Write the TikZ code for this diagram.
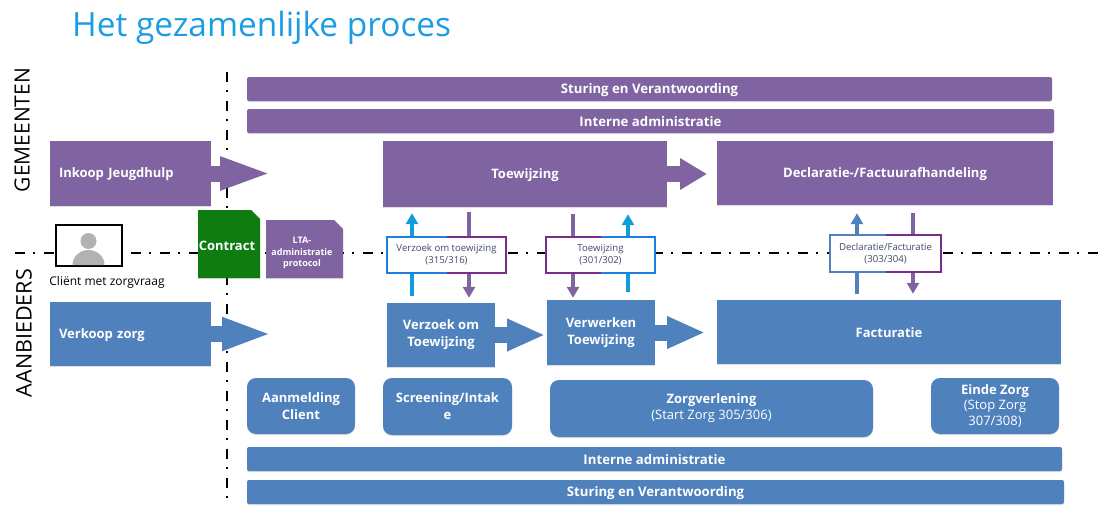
\documentclass[tikz,border=0pt]{standalone}
\usepackage{fontspec}
\setmainfont{Open Sans}
\usepackage{xcolor}
\usetikzlibrary{arrows.meta}
\usetikzlibrary{positioning,calc,shadows}
\definecolor{paars}{HTML}{8064A2}
\definecolor{blauw}{HTML}{4F81BD}
\definecolor{lichtblauw}{HTML}{109DDC}
\definecolor{titel}{HTML}{1C9CE2}
\definecolor{groen}{HTML}{0E7C10}
\definecolor{randpaars}{HTML}{7B2D8B}
\definecolor{randblauw}{HTML}{1F7FE0}
\definecolor{berichttekst}{HTML}{3F4A66}
\newcommand{\kleinfont}{\fontsize{13}{15}\mdseries\selectfont}
\tikzset{
    schaduw/.style={
        drop shadow={opacity=0.25, shadow xshift=0pt, shadow yshift=-1pt}
    },
    blok/.style={
        schaduw,
        inner sep=2pt,
        align=center,
        text=white,
        execute at begin node={\rule{0pt}{12pt}},
        font=\bfseries\fontsize{13}{17}\selectfont
    },
    balk/.style={
        blok,
        rounded corners=2pt,
        font=\bfseries\fontsize{13.2}{16}\selectfont
    },
    rond/.style={
        blok,
        fill=blauw,
        rounded corners=9pt
    },
    blokpijl/.style={
        line width=16pt,
        -{Triangle[length=52pt, width=30pt]}
    },
    pijl/.style={
        line width=4pt,
        -{Triangle[length=11pt, width=12pt]},
        shorten <=7pt,
        shorten >=6pt
    },
    bericht/.style={
        fill=white,
        inner sep=0pt,
        align=center,
        text=berichttekst,
        execute at begin node={\rule{0pt}{12pt}},
        font=\fontsize{9.6}{12}\selectfont
    },
    scheiding/.style={
        line width=2pt,
        dash pattern=on 10pt off 8pt on 2pt off 9pt
    }
}

\begin{document}
\begin{tikzpicture}[x=1pt, y=-1pt]
    \useasboundingbox (0,0) rectangle (1103,506);

    % Scheidingslijnen
    \coordinate (hstart) at (15,253);
    \coordinate (heind) at (1100,253);
    \coordinate (vstart) at (227,72);
    \coordinate (veind) at (227,506);
    \draw[scheiding] (hstart) -- (heind);
    \draw[scheiding] (vstart) -- (veind);

    % Titel en zijkant
    \node[text=titel, font=\fontsize{33.4}{38}\selectfont, anchor=west, inner sep=0pt] (titel) at (72,28) {Het gezamenlijke proces};
    \node[rotate=90, font=\fontsize{21}{24}\selectfont, inner sep=0pt] (gemeenten) at (22,130) {GEMEENTEN};
    \node[rotate=90, font=\fontsize{21.5}{24}\selectfont, inner sep=0pt] (aanbieders) at (24,333) {AANBIEDERS};

    % Gemeenten
    \node[balk, fill=paars, minimum width=805pt, minimum height=24pt] (sturingg) at (649.5,89) {Sturing en Verantwoording};
    \node[balk, fill=paars, minimum width=807pt, minimum height=24pt] (interneg) at (650.5,121) {Interne administratie};
    \node[blok, fill=paars, minimum width=161pt, minimum height=65pt, text width=143pt, align=left] (inkoop) at (130.5,173.5) {Inkoop Jeugdhulp};
    \node[blok, fill=paars, minimum width=284pt, minimum height=66pt] (toewijzing) at (525,174) {Toewijzing};
    \node[blok, fill=paars, minimum width=336pt, minimum height=64pt] (declaratie) at (885,173) {Declaratie-/Factuurafhandeling};

    % Aanbieders
    \node[blok, fill=blauw, minimum width=161pt, minimum height=64pt, text width=143pt, align=left] (verkoop) at (130.5,334) {Verkoop zorg};
    \node[blok, fill=blauw, minimum width=108pt, minimum height=64pt] (verzoek) at (441,335) {Verzoek om\\Toewijzing};
    \node[blok, fill=blauw, minimum width=108pt, minimum height=65pt] (verwerken) at (601,332.5) {Verwerken\\Toewijzing};
    \node[blok, fill=blauw, minimum width=344pt, minimum height=64pt] (facturatie) at (889,332) {Facturatie};
    \node[rond, minimum width=108pt, minimum height=56pt] (aanmelding) at (301,406) {Aanmelding\\Client};
    \node[rond, minimum width=129pt, minimum height=57pt] (screening) at (447.5,406.5) {Screening/Intak\\e};
    \node[rond, minimum width=323pt, minimum height=57pt] (zorg) at (711.5,408.5) {Zorgverlening\\[-1pt]\kleinfont (Start Zorg 305/306)};
    \node[rond, minimum width=128pt, minimum height=56pt] (einde) at (995,406) {Einde Zorg\\[-2pt]\kleinfont (Stop Zorg\\[-1pt]\kleinfont 307/308)};
    \node[balk, fill=blauw, minimum width=815pt, minimum height=24pt] (internea) at (654.5,459) {Interne administratie};
    \node[balk, fill=blauw, minimum width=817pt, minimum height=24pt] (sturinga) at (655.5,492) {Sturing en Verantwoording};

    % Blokpijlen
    \coordinate (inkooppunt) at (272,173.5);
    \coordinate (toewijzingpunt) at (707,174);
    \coordinate (verkooppunt) at (272,334);
    \coordinate (verzoekpunt) at (545,335);
    \coordinate (verwerkenpunt) at (705,332.5);
    \draw[blokpijl, paars] (inkoop.east) -- (inkooppunt);
    \draw[blokpijl, paars, -{Triangle[length=27pt, width=30pt]}] (toewijzing.east) -- (toewijzingpunt);
    \draw[blokpijl, blauw, -{Triangle[length=50pt, width=30pt]}] (verkoop.east) -- (verkooppunt);
    \draw[blokpijl, blauw, -{Triangle[length=38pt, width=30pt]}] (verzoek.east) -- (verzoekpunt);
    \draw[blokpijl, blauw, -{Triangle[length=38pt, width=30pt]}] (verwerken.east) -- (verwerkenpunt);

    % Berichten
    \draw[pijl, lichtblauw] ([xshift=-29pt]verzoek.north) -- ([xshift=-29pt]verzoek.north |- toewijzing.south);
    \draw[pijl, paars, shorten <=5pt, shorten >=5pt] ([xshift=28pt]verzoek.north |- toewijzing.south) -- ([xshift=28pt]verzoek.north);
    \draw[pijl, paars, shorten <=7pt, shorten >=2pt] ([xshift=-28pt]verwerken.north |- toewijzing.south) -- ([xshift=-28pt]verwerken.north);
    \draw[pijl, lichtblauw, shorten <=8pt, shorten >=7pt] ([xshift=27pt]verwerken.north) -- ([xshift=27pt]verwerken.north |- toewijzing.south);
    \draw[pijl, blauw, shorten <=6pt, shorten >=8pt] ([xshift=-32pt]facturatie.north) -- ([xshift=-32pt]facturatie.north |- declaratie.south);
    \draw[pijl, paars, shorten <=8pt, shorten >=6pt] ([xshift=24pt]facturatie.north |- declaratie.south) -- ([xshift=24pt]facturatie.north);

    \node[bericht, minimum width=119pt, minimum height=36pt] (bverzoek) at (446.5,255) {Verzoek om toewijzing\\(315/316)};
    \node[bericht, minimum width=109pt, minimum height=36pt] (btoewijzing) at (600.5,255) {Toewijzing\\(301/302)};
    \node[bericht, minimum width=111pt, minimum height=37pt] (bdeclaratie) at (885.5,253.5) {Declaratie/Facturatie\\(303/304)};
    \draw[line width=1.6pt, randblauw] (bverzoek.north) -- (bverzoek.north west) -- (bverzoek.south west) -- (bverzoek.south);
    \draw[line width=1.6pt, randpaars] (bverzoek.north) -- (bverzoek.north east) -- (bverzoek.south east) -- (bverzoek.south);
    \draw[line width=1.6pt, randpaars] (btoewijzing.north) -- (btoewijzing.north west) -- (btoewijzing.south west) -- (btoewijzing.south);
    \draw[line width=1.6pt, randblauw] (btoewijzing.north) -- (btoewijzing.north east) -- (btoewijzing.south east) -- (btoewijzing.south);
    \draw[line width=1.6pt, blauw] (bdeclaratie.north) -- (bdeclaratie.north west) -- (bdeclaratie.south west) -- (bdeclaratie.south);
    \draw[line width=1.6pt, randpaars] (bdeclaratie.north) -- (bdeclaratie.north east) -- (bdeclaratie.south east) -- (bdeclaratie.south);

    % Contract en protocol
    \path[fill=groen, schaduw] (198,210) -- (251,210) -- (260,219) -- (260,278) -- (198,278) -- cycle;
    \node[text=white, font=\bfseries\fontsize{13}{16}\selectfont, inner sep=0pt] (contract) at (227,246) {Contract};
    \path[fill=paars, schaduw] (266,220) -- (334,220) -- (343,229) -- (343,278) -- (266,278) -- cycle;
    \node[text=white, align=center, font=\bfseries\fontsize{9}{11.5}\selectfont, inner sep=0pt] (protocol) at (302,253) {LTA-\\administratie\\protocol};

    % Client
    \node[draw=black, line width=2pt, fill=white, minimum width=66pt, minimum height=41pt, inner sep=0pt] (client) at (88.5,245.5) {};
    \fill[black!30] (72.5,265) arc[start angle=180, end angle=0, x radius=16pt, y radius=15pt] -- cycle;
    \fill[black!30] (88.5,241) circle[radius=8pt];
    \node[below=9pt of client, font=\fontsize{12}{14}\selectfont, inner sep=0pt, xshift=18.5pt] (clienttekst) {Cliënt met zorgvraag};
\end{tikzpicture}
\end{document}
